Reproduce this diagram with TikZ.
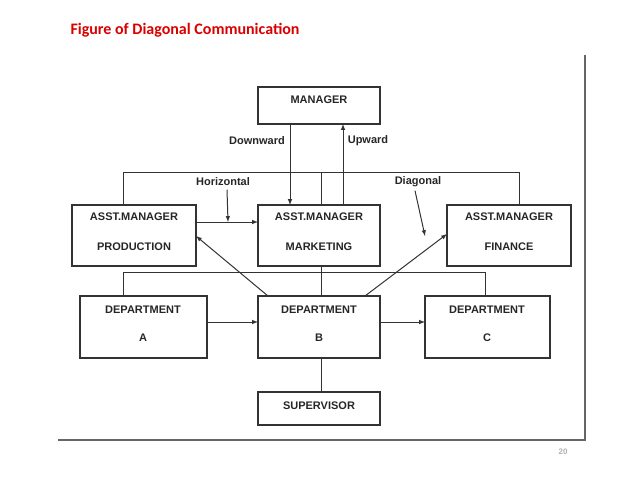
\documentclass[tikz,border=0pt]{standalone}
\usepackage{fontspec}
\setmainfont{Liberation Sans}
\newfontfamily\titlefont{Carlito}
\usetikzlibrary{arrows,positioning,calc}
\tikzset{every picture/.style={font issue=\bfseries},
         font issue/.style={execute at begin picture={#1\selectfont}}
        }
\tikzset{box/.style={draw=black!80,line width=1.2pt,inner sep=0pt},
         wire/.style={draw=black!80,line width=1pt},
         arr/.style={wire,-latex},
         lbl/.style={font=\fontsize{11}{13}\bfseries\selectfont,text=black!85}}

\begin{document}
\begin{tikzpicture}[x=1pt,y=-1pt]
    \useasboundingbox (0,0) rectangle (638,479);
    \node[anchor=west,text=red!85!black,font=\titlefont\fontsize{16}{19}\bfseries\selectfont] at (67,30) (title){Figure of Diagonal Communication};

    % frame
    \draw[black!60,line width=2.5pt] (585,55) -- (585,440) -- (58,440);
    \node[text=black!30,font=\fontsize{8}{9}\selectfont] at (563,452) (page){20};

    % boxes
    \draw[box] (258,87) rectangle (380,124);
    \node[lbl] at (319,100) (manager){MANAGER};

    \draw[box] (72,205) rectangle (196,266);
    \node[lbl] at (134,217) (prod1){ASST.MANAGER};
    \node[lbl] at (134,247) (prod2){PRODUCTION};
    \draw[box] (258,205) rectangle (380,266);
    \node[lbl] at (319,217) (mark1){ASST.MANAGER};
    \node[lbl] at (319,247) (mark2){MARKETING};
    \draw[box] (447,205) rectangle (571,266);
    \node[lbl] at (509,217) (fin1){ASST.MANAGER};
    \node[lbl] at (509,247) (fin2){FINANCE};

    \draw[box] (80,296) rectangle (207,358);
    \node[lbl] at (143,310) (depa1){DEPARTMENT};
    \node[lbl] at (143,338) (depa2){A};
    \draw[box] (258,296) rectangle (380,358);
    \node[lbl] at (319,310) (depb1){DEPARTMENT};
    \node[lbl] at (319,338) (depb2){B};
    \draw[box] (425,296) rectangle (550,358);
    \node[lbl] at (487,310) (depc1){DEPARTMENT};
    \node[lbl] at (487,338) (depc2){C};

    \draw[box] (258,392) rectangle (380,425);
    \node[lbl] at (319,406) (super){SUPERVISOR};

    % labels
    \node[lbl] at (257,141) (down){Downward};
    \node[lbl] at (368,141) (up){Upward};
    \node[lbl] at (223,182) (horiz){Horizontal};
    \node[lbl] at (418,182) (diag){Diagonal};

    % connectors
    \draw[arr] (290,124) -- (290,205);
    \draw[arr] (343,205) -- (343,124);
    \draw[wire] (123,205) -- (123,172) -- (519,172) -- (519,205);
    \draw[wire] (321,172) -- (321,205);
    \draw[arr] (196,222) -- (258,222);
    \draw[arr] (horiz.south) ++(4,0) -- (228,222);
    \draw[arr] (diag.south) ++(-3,0) -- (425,236);
    \draw[arr] (268,296) -- (196,236);
    \draw[arr] (365,296) -- (447,234);
    \draw[wire] (321,266) -- (321,296);
    \draw[wire] (123,296) -- (123,272) -- (485,272) -- (485,296);
    \draw[arr] (207,322) -- (258,322);
    \draw[arr] (380,322) -- (425,322);
    \draw[wire] (321,358) -- (321,392);
\end{tikzpicture}
\end{document}
